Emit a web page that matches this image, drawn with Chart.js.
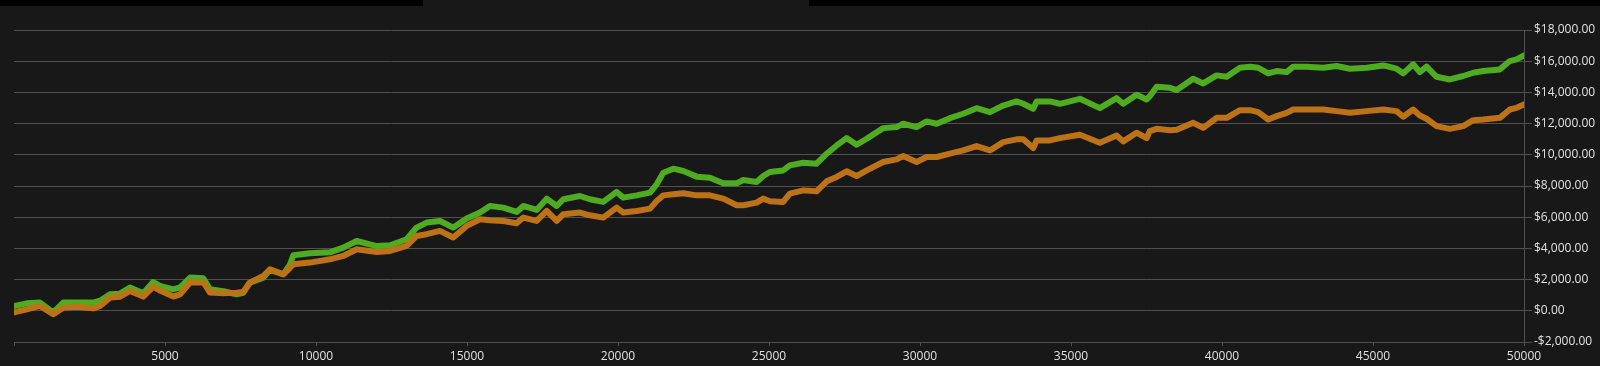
<!DOCTYPE html>
<html><head><meta charset="utf-8">
<script src="https://cdn.jsdelivr.net/npm/chart.js@4/dist/chart.umd.min.js"></script>
<style>
html,body{margin:0;padding:0;background:#181818;width:1600px;height:366px;overflow:hidden}
#wrap{position:relative;width:1600px;height:366px;background:#181818}
canvas{position:absolute;left:0;top:0}
.bar{position:absolute;top:0;height:6px;background:#000}
</style></head><body>
<div id="wrap">
<canvas id="c" width="1600" height="366"></canvas>
<div class="bar" style="left:0;width:423px"></div>
<div class="bar" style="left:809px;width:791px"></div>
</div>
<script>
// x positions (trade count)
const trades = [
  0, 420, 860, 1300, 1630, 2075, 2625, 2850, 3180, 3510, 3840, 4280, 4610, 4830, 5275, 5500, 5830, 6270, 6490, 6930, 7370, 7590, 7810, 8255, 8475, 8920, 9140, 9250, 9800, 10460, 10900, 11350, 12010,
  12450, 13000, 13330, 13665, 14105, 14545, 14990, 15430, 15760, 16200, 16645, 16865, 17305, 17640, 17970, 18190, 18740, 19070, 19510, 19955, 20175, 20620, 21060, 21280, 21500, 21830, 22160, 22605, 23045, 23485, 23930, 24150, 24590, 24810,
  25030, 25470, 25690, 26135, 26575, 26910, 27240, 27570, 27900, 28235, 28780, 29225, 29445, 29885, 30220, 30550, 30990, 31430, 31875, 32315, 32755, 33200, 33420, 33750, 33860, 34300, 34630, 35295, 35955, 36510, 36730, 37170, 37505,
  37610, 37835, 38275, 38500, 39045, 39380, 39820, 40155, 40595, 40925, 41200, 41530, 41810, 42140, 42360, 42800, 43350, 43795, 44235, 44790, 45340, 45780, 46000, 46330, 46550, 46775, 47105, 47545, 47985, 48320, 48650, 49200, 49530, 49755, 50000
];
// green series
const equityGreen = [
  310, 480, 525, -100, 525, 525, 525, 650, 1058, 1100, 1487, 1122, 1846, 1600, 1378, 1500, 2128, 2080, 1378, 1250, 1058, 1150, 1808, 2128, 2615, 2340, 2980, 3558, 3686, 3750, 4051, 4474, 4150,
  4203, 4590, 5335, 5655, 5760, 5335, 5910, 6295, 6720, 6615, 6340, 6720, 6465, 7190, 6720, 7150, 7360, 7150, 6980, 7620, 7255, 7400, 7575, 8110, 8855, 9110, 8960, 8600, 8535, 8170, 8170, 8385, 8255, 8640,
  8897, 9000, 9320, 9490, 9430, 10070, 10600, 11070, 10645, 11030, 11710, 11775, 11990, 11775, 12140, 11990, 12350, 12630, 12990, 12735, 13160, 13420, 13270, 12950, 13420, 13420, 13270, 13590, 12990, 13630, 13270, 13845, 13545,
  13760, 14360, 14300, 14150, 14880, 14575, 15090, 15000, 15580, 15650, 15580, 15220, 15370, 15300, 15650, 15650, 15580, 15690, 15520, 15580, 15730, 15520, 15220, 15800, 15300, 15650, 15000, 14830, 15050, 15260, 15370, 15475, 16010, 16120, 16370
];
// orange series
const equityOrange = [
  -100, 96, 310, -220, 200, 260, 160, 310, 845, 900, 1270, 910, 1550, 1300, 910, 1050, 1808, 1830, 1165, 1130, 1165, 1200, 1808, 2230, 2660, 2340, 2760, 2980, 3090, 3300, 3515, 3942, 3770,
  3840, 4160, 4800, 4910, 5120, 4700, 5440, 5870, 5800, 5760, 5610, 5975, 5760, 6400, 5760, 6190, 6295, 6120, 5975, 6615, 6295, 6400, 6550, 7040, 7400, 7470, 7530, 7400, 7400, 7190, 6765, 6765, 6935, 7190,
  7020, 6980, 7510, 7720, 7660, 8300, 8580, 8940, 8640, 9000, 9540, 9710, 9920, 9540, 9860, 9860, 10070, 10280, 10560, 10280, 10815, 10990, 10990, 10430, 10920, 10920, 11070, 11285, 10775, 11240, 10860, 11415, 11070,
  11520, 11665, 11580, 11600, 12050, 11730, 12370, 12370, 12860, 12860, 12735, 12265, 12480, 12690, 12905, 12905, 12905, 12800, 12690, 12800, 12905, 12800, 12440, 12905, 12520, 12310, 11840, 11665, 11840, 12220, 12265, 12370, 12905, 13010, 13230
];
const yMin = -2000, yMax = 18000, yStep = 2000;
const xMin = 0, xMax = 50000, xStep = 5000;

const pts = arr => arr.map((v, i) => ({x: trades[i], y: v}));
const gridCol = '#505050';
const txtCol = '#e2e2e2';
const fnt = {family: "'Open Sans', sans-serif", size: 12};

new Chart(document.getElementById('c'), {
  type: 'line',
  data: {
    datasets: [
      {label: 'B', data: pts(equityOrange), borderColor: '#bd7217', borderWidth: 6, pointRadius: 0, tension: 0, borderJoinStyle: 'round', borderCapStyle: 'round', fill: false},
      {label: 'A', data: pts(equityGreen), borderColor: '#4fab1f', borderWidth: 6, pointRadius: 0, tension: 0, borderJoinStyle: 'round', borderCapStyle: 'round', fill: false}
    ]
  },
  options: {
    responsive: false,
    animation: false,
    events: [],
    layout: {padding: {left: 14, top: 30, right: 0, bottom: 0}},
    plugins: {legend: {display: false}, tooltip: {enabled: false}},
    scales: {
      x: {
        type: 'linear', min: xMin, max: xMax,
        afterFit: s => { s.height = 24; },
        grid: {drawOnChartArea: false, drawTicks: true, tickLength: 4, color: gridCol},
        border: {display: true, color: gridCol},
        ticks: {stepSize: xStep, autoSkip: false, maxRotation: 0, padding: 3, color: txtCol, font: fnt,
          callback: v => v === 0 ? '' : String(v)}
      },
      y: {
        position: 'right', min: yMin, max: yMax,
        afterFit: s => { s.width = 76; },
        grid: {color: gridCol, tickLength: 8, drawTicks: true},
        border: {display: true, color: gridCol},
        ticks: {stepSize: yStep, padding: 2, color: txtCol, font: fnt,
          callback: v => (v < 0 ? '-$' : '$') + Math.abs(v).toLocaleString('en-US', {minimumFractionDigits: 2, maximumFractionDigits: 2})}
      }
    }
  }
});
</script>
</body></html>
